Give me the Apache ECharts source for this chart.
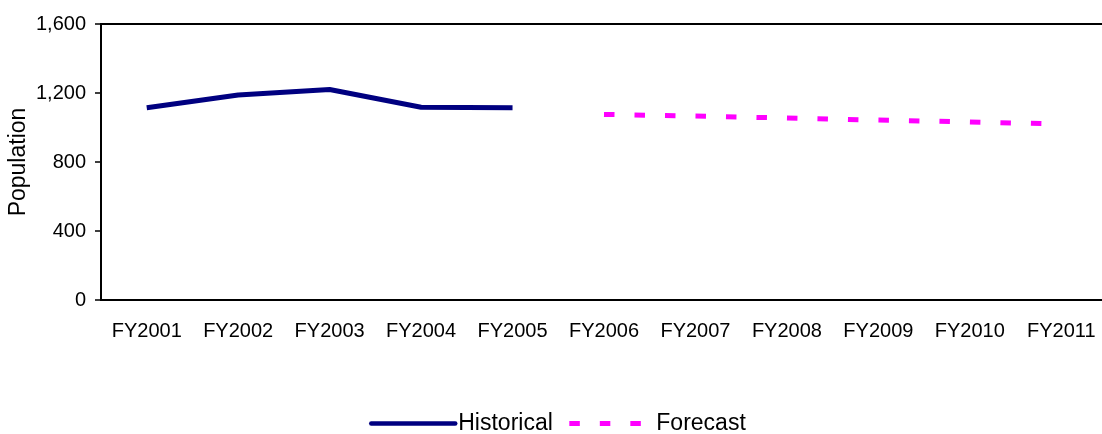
<!DOCTYPE html>
<html>
<head>
<meta charset="utf-8">
<script src="https://cdn.jsdelivr.net/npm/echarts@6/dist/echarts.min.js"></script>
<style>
html,body{margin:0;padding:0;background:#fff;}
#chart{width:1102px;height:434px;}
</style>
</head>
<body>
<div id="chart"></div>
<script>
const categories = ['FY2001','FY2002','FY2003','FY2004','FY2005','FY2006','FY2007','FY2008','FY2009','FY2010','FY2011'];
const historical = [1115, 1188, 1220, 1117, 1115, null, null, null, null, null, null];
const forecast = [null, null, null, null, null, 1076, 1066, 1055, 1043, 1032, 1020];
const yTicks = [0, 400, 800, 1200, 1600];

const FONT = 'Liberation Sans, Arial, sans-serif';
const chart = echarts.init(document.getElementById('chart'));
chart.setOption({
  animation: false,
  backgroundColor: '#fff',
  textStyle: { fontFamily: FONT, color: '#000' },
  grid: {
    left: 101, top: 24, width: 1006, height: 276,
    show: true, borderColor: '#000', borderWidth: 2,
    outerBoundsMode: 'none', containLabel: false
  },
  legend: {
    left: 364, top: 407,
    itemWidth: 84, itemHeight: 14, itemGap: 14,
    itemStyle: { opacity: 0, borderWidth: 0 },
    textStyle: { fontFamily: FONT, fontSize: 23, color: '#000', padding: [0,0,0,-2] },
    data: [
      { name: 'Historical', lineStyle: { width: 4.5, color: '#000080', cap: 'round' } },
      { name: 'Forecast', lineStyle: { width: 5, color: '#FF00FF', type: [10.5, 20] } }
    ]
  },
  xAxis: {
    type: 'category',
    data: categories,
    boundaryGap: true,
    axisLine: { lineStyle: { color: '#000', width: 2 } },
    axisTick: { show: false },
    axisLabel: { fontFamily: FONT, fontSize: 20, color: '#000', margin: 21, interval: 0 },
    splitLine: { show: false }
  },
  yAxis: {
    type: 'value',
    min: yTicks[0], max: yTicks[yTicks.length - 1], interval: 400,
    name: 'Population',
    nameLocation: 'middle',
    nameGap: 71,
    nameMoveOverlap: false,
    nameTextStyle: { fontFamily: FONT, fontSize: 23, color: '#000' },
    axisLine: { show: true, lineStyle: { color: '#000', width: 2 } },
    axisTick: { show: true, length: 6, lineStyle: { color: '#000', width: 1.5 } },
    axisLabel: {
      fontFamily: FONT, fontSize: 20, color: '#000', margin: 15,
      formatter: v => v.toLocaleString('en-US')
    },
    splitLine: { show: false }
  },
  series: [
    {
      name: 'Historical', type: 'line', data: historical,
      symbol: 'none', connectNulls: false,
      itemStyle: { color: '#000080' },
      lineStyle: { color: '#000080', width: 5 }
    },
    {
      name: 'Forecast', type: 'line', data: forecast,
      symbol: 'none', connectNulls: false,
      itemStyle: { color: '#FF00FF' },
      lineStyle: { color: '#FF00FF', width: 5, type: [10.5, 20], cap: 'butt' }
    }
  ]
});
</script>
</body>
</html>
